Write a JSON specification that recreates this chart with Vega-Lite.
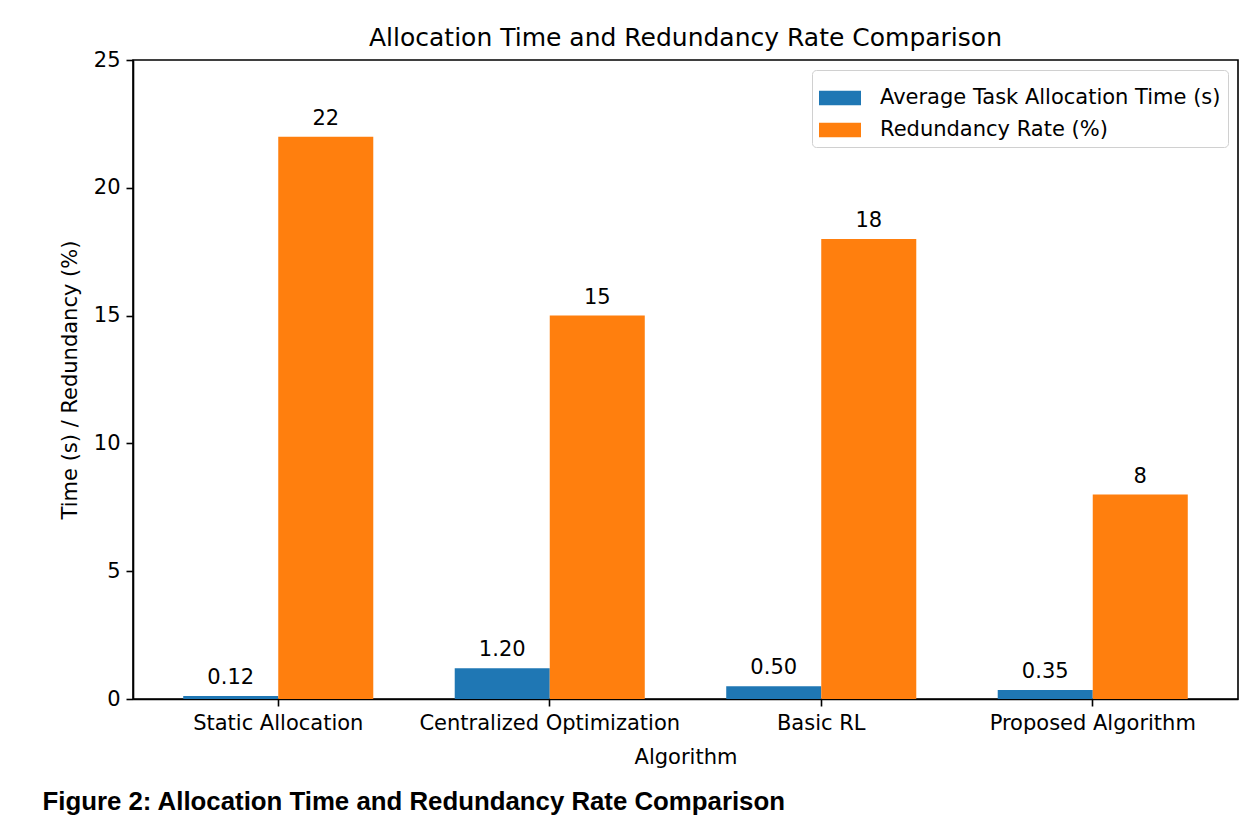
{
  "$schema": "https://vega.github.io/schema/vega-lite/v6.json",
  "background": "white",
  "padding": {"left": 42, "top": 25, "right": 0, "bottom": 0},
  "title": {
    "text": "Figure 2: Allocation Time and Redundancy Rate Comparison",
    "orient": "bottom",
    "anchor": "start",
    "font": "Liberation Sans",
    "fontWeight": "bold",
    "fontSize": 25.8,
    "color": "#000000",
    "offset": 22,
    "dx": -16
  },
  "data": {
    "values": [
      {"algorithm": "Static Allocation", "series": "Average Task Allocation Time (s)", "value": 0.12},
      {"algorithm": "Static Allocation", "series": "Redundancy Rate (%)", "value": 22},
      {"algorithm": "Centralized Optimization", "series": "Average Task Allocation Time (s)", "value": 1.2},
      {"algorithm": "Centralized Optimization", "series": "Redundancy Rate (%)", "value": 15},
      {"algorithm": "Basic RL", "series": "Average Task Allocation Time (s)", "value": 0.5},
      {"algorithm": "Basic RL", "series": "Redundancy Rate (%)", "value": 18},
      {"algorithm": "Proposed Algorithm", "series": "Average Task Allocation Time (s)", "value": 0.35},
      {"algorithm": "Proposed Algorithm", "series": "Redundancy Rate (%)", "value": 8}
    ]
  },
  "vconcat": [
    {
      "width": 1105,
      "height": 639,
      "title": {
        "text": "Allocation Time and Redundancy Rate Comparison",
        "font": "DejaVu Sans",
        "fontSize": 25,
        "fontWeight": "normal",
        "color": "#000000",
        "offset": -2
      },
      "encoding": {
        "x": {
          "field": "algorithm",
          "type": "nominal",
          "sort": null,
          "scale": {"paddingInner": 0.3, "paddingOuter": 0.185},
          "axis": {"labelAngle": 0, "title": "Algorithm", "labelLimit": 0}
        },
        "xOffset": {
          "field": "series",
          "type": "nominal",
          "sort": null,
          "scale": {"paddingInner": 0, "paddingOuter": 0}
        },
        "y": {
          "field": "value",
          "type": "quantitative",
          "scale": {"domain": [0, 25], "nice": false},
          "axis": {"values": [0, 5, 10, 15, 20, 25], "title": "Time (s) / Redundancy (%)", "grid": false}
        }
      },
      "layer": [
        {
          "mark": {"type": "bar"},
          "encoding": {
            "color": {
              "field": "series",
              "type": "nominal",
              "sort": null,
              "scale": {"domain": ["Average Task Allocation Time (s)", "Redundancy Rate (%)"], "range": ["#1f77b4", "#ff7f0e"]},
              "legend": {"title": null, "orient": "top-right"}
            }
          }
        },
        {
          "transform": [{"filter": "datum.series === 'Average Task Allocation Time (s)'"}],
          "mark": {"type": "text", "baseline": "alphabetic", "dy": -12, "font": "DejaVu Sans", "fontSize": 21, "color": "#000000"},
          "encoding": {"text": {"field": "value", "type": "quantitative", "format": ".2f"}}
        },
        {
          "transform": [{"filter": "datum.series === 'Redundancy Rate (%)'"}],
          "mark": {"type": "text", "baseline": "alphabetic", "dy": -12, "font": "DejaVu Sans", "fontSize": 21, "color": "#000000"},
          "encoding": {"text": {"field": "value", "type": "quantitative", "format": "d"}}
        }
      ]
    }
  ],
  "config": {
    "view": {"stroke": "#000000", "strokeWidth": 1.6},
    "axis": {
      "labelFont": "DejaVu Sans",
      "labelFontSize": 21,
      "labelColor": "#000000",
      "labelLimit": 0,
      "titleFont": "DejaVu Sans",
      "titleFontSize": 21,
      "titleFontWeight": "normal",
      "titleColor": "#000000",
      "domainColor": "#000000",
      "domainWidth": 1.6,
      "tickColor": "#000000",
      "tickWidth": 1.6,
      "tickSize": 7,
      "labelPadding": 6,
      "titlePadding": 13
    },
    "legend": {
      "offset": 10,
      "symbolType": "M-1,-0.35L1,-0.35L1,0.35L-1,0.35Z",
      "symbolSize": 1764,
      "symbolStrokeWidth": 0,
      "labelFont": "DejaVu Sans",
      "labelFontSize": 21,
      "labelColor": "#000000",
      "labelLimit": 0,
      "labelOffset": 19,
      "strokeColor": "#d0d0d0",
      "fillColor": "rgba(255,255,255,0.8)",
      "cornerRadius": 4,
      "padding": 7,
      "rowPadding": 1
    }
  }
}
